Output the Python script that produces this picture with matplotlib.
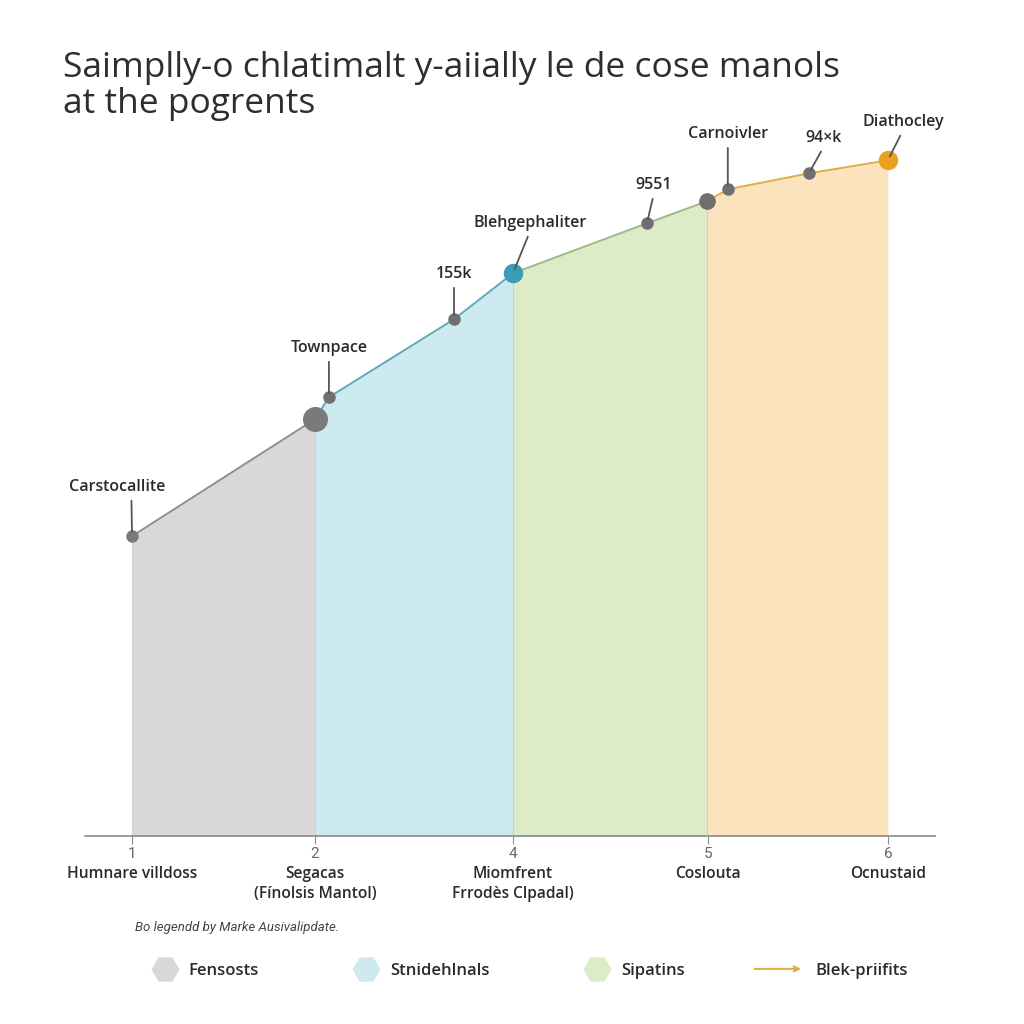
import matplotlib
matplotlib.use("Agg")
import matplotlib.pyplot as plt
from matplotlib.lines import Line2D
from matplotlib.patches import FancyArrowPatch
from matplotlib.legend_handler import HandlerBase

plt.rcParams['font.family'] = ['Open Sans', 'DejaVu Sans']

# ---- data ----
tick_pos = [1.0, 1.968, 3.016, 4.048, 5.0]
tick_labels = ["1", "2", "4", "5", "6"]
categories = ["Humnare villdoss", "Segacas\n(Fínolsis Mantol)", "Miomfrent\nFrrodès Clpadal)",
              "Coslouta", "Ocnustaid"]

pt_x = [1.0, 1.968, 2.042, 2.704, 3.016, 3.725, 4.042, 4.153, 4.582, 5.0]
pt_y = [30.0, 41.7, 43.9, 51.7, 56.3, 61.3, 63.5, 64.7, 66.3, 67.6]

seg_bounds = [(0, 1), (1, 4), (4, 6), (6, 9)]
seg_fill = ["#d8d8d8", "#cdeaf0", "#dcebc8", "#fbe3bd"]
seg_line = ["#8f8f8f", "#5fa9b8", "#9fba86", "#e1ad45"]
legend_labels = ["Fensosts", "Stnidehlnals", "Sipatins", "Blek-priifits"]

annot_text = ["Carstocallite", "Townpace", "155k", "Blehgephaliter", "9551",
              "Carnoivler", "94\u00d7k", "Diathocley"]
annot_idx = [0, 2, 3, 4, 5, 7, 8, 9]
annot_dx = [-0.08, 0.0, 0.0, 0.09, 0.037, 0.0, 0.08, 0.08]
annot_dy = [4.1, 4.1, 3.7, 4.2, 3.0, 4.7, 2.7, 3.0]
annot_relx = [0.65, 0.5, 0.5, 0.5, 0.5, 0.5, 0.5, 0.5]


class HandlerArrow(HandlerBase):
    def create_artists(self, legend, orig_handle, xdescent, ydescent, width, height,
                       fontsize, trans):
        y = height / 2 - ydescent
        p = FancyArrowPatch((-xdescent - 20, y), (width - xdescent, y), arrowstyle="->",
                            mutation_scale=9, color=orig_handle.get_color(), lw=1.5,
                            transform=trans)
        return [p]


# ---- figure ----
fig = plt.figure(figsize=(10.24, 10.24), dpi=100)
ax = fig.add_axes([0.083, 0.1836, 0.83, 0.7184])
ax.set_xlim(0.751, 5.249)
ax.set_ylim(0, 73.6)

for k, (a, b) in enumerate(seg_bounds):
    xs = pt_x[a:b + 1] if k < len(seg_bounds) - 1 else pt_x[a:]
    ys = pt_y[a:b + 1] if k < len(seg_bounds) - 1 else pt_y[a:]
    ax.fill_between(xs, 0, ys, color=seg_fill[k], lw=0, zorder=1)
    ax.plot(xs, ys, color=seg_line[k], lw=1.4, zorder=2)
    ax.plot([xs[0], xs[0]], [0, ys[0]], color="#b9c9cc", lw=0.8, alpha=0.7, zorder=1.5)

sizes = [8, 17, 8, 8, 13, 8, 11, 8, 8, 13]
mcolors = ["#7a7a7a", "#7a7a7a", "#6f6f6f", "#6f6f6f", "#3b9cb6", "#6f6f6f",
           "#6f6f6f", "#6f6f6f", "#6f6f6f", "#e8a21e"]
for x, y, s, c in zip(pt_x, pt_y, sizes, mcolors):
    ax.plot(x, y, 'o', ms=s, color=c, mec=c, zorder=4)

for t, i, dx, dy, rx in zip(annot_text, annot_idx, annot_dx, annot_dy, annot_relx):
    ax.annotate(t, xy=(pt_x[i], pt_y[i]), xytext=(pt_x[i] + dx, pt_y[i] + dy),
                ha="center", va="bottom", fontsize=11.5, fontweight="semibold", color="#2a2a2a",
                arrowprops=dict(arrowstyle="-", color="#555555", lw=1.3,
                                shrinkA=2, shrinkB=3, relpos=(rx, 0)), zorder=5)

for s in ["top", "right", "left"]:
    ax.spines[s].set_visible(False)
ax.spines["bottom"].set_color("#8a8a8a")
ax.spines["bottom"].set_linewidth(1.2)
ax.set_yticks([])
ax.set_xticks(tick_pos)
ax.set_xticklabels(tick_labels, fontsize=11, color="#666666", family=["Roboto", "DejaVu Sans"])
ax.tick_params(axis="x", length=6, color="#8a8a8a", pad=2)

for x, c in zip(tick_pos, categories):
    ax.text(x, -3.0, c, ha="center", va="top", fontsize=11.2, fontweight="semibold",
            color="#2a2a2a", linespacing=1.35)

fig.text(0.062, 0.916, "Saimplly-o chlatimalt y-aiially le de cose manols\nat the pogrents",
         ha="left", va="center", fontsize=25.5, fontweight="medium",
         color="#2e2e2e", linespacing=1.1)

fig.text(0.132, 0.094, "Bo legendd by Marke Ausivalipdate.", ha="left", va="center",
         fontsize=9.5, style="italic", color="#444444", family=["Roboto", "DejaVu Sans"])

handles = [Line2D([], [], ls="none", marker="H", ms=19, color=seg_fill[0]),
           Line2D([], [], ls="none", marker="H", ms=19, color=seg_fill[1]),
           Line2D([], [], ls="none", marker="H", ms=19, color=seg_fill[2]),
           Line2D([], [], color=seg_line[3], lw=1.5)]
leg = fig.legend(handles, legend_labels, loc="center", bbox_to_anchor=(0.518, 0.052),
                 ncol=4, frameon=False, fontsize=12, columnspacing=5.7,
                 handlelength=1.45, handletextpad=0.72,
                 handler_map={handles[3]: HandlerArrow()})
for t in leg.get_texts():
    t.set_fontweight("semibold")
    t.set_color("#2a2a2a")

fig.savefig("out.png", dpi=100, facecolor="white")
